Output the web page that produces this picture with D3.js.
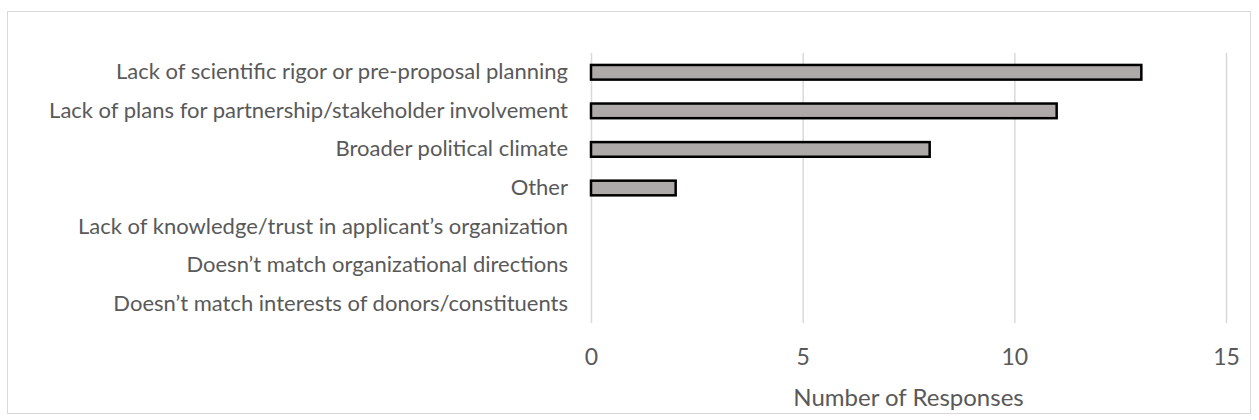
<!DOCTYPE html>
<html>
<head>
<meta charset="utf-8">
<script src="https://cdn.jsdelivr.net/npm/d3@7/dist/d3.min.js"></script>
<style>
  html, body { margin: 0; padding: 0; background: #fff; }
  svg { display: block; }
  text { font-family: Lato, "Open Sans", sans-serif; fill: #595959; }
</style>
</head>
<body>
<svg id="chart" width="1259" height="420"></svg>
<script>
// Reasons given, top to bottom, and the number of responses for each
const categories = [
  "Lack of scientific rigor or pre-proposal planning",
  "Lack of plans for partnership/stakeholder involvement",
  "Broader political climate",
  "Other",
  "Lack of knowledge/trust in applicant\u2019s organization",
  "Doesn\u2019t match organizational directions",
  "Doesn\u2019t match interests of donors/constituents"
];
const responses = [13, 11, 8, 2, 0, 0, 0];
const xTicks = [0, 5, 10, 15];
const xTitle = "Number of Responses";

const svg = d3.select("#chart");

// outer chart frame
svg.append("rect")
  .attr("x", 7.5).attr("y", 11.5)
  .attr("width", 1243).attr("height", 402)
  .attr("fill", "#fff").attr("stroke", "#d9d9d9").attr("stroke-width", 1);

const plot = { left: 591, right: 1226, top: 53, bottom: 323 };

const x = d3.scaleLinear().domain([0, 15]).range([plot.left, plot.right]);
const y = d3.scaleBand().domain(categories).range([plot.top, plot.bottom]).paddingInner(0.62).paddingOuter(0.31);

// vertical gridlines
svg.append("g")
  .selectAll("line")
  .data(xTicks)
  .join("line")
  .attr("x1", d => x(d) + 0.5).attr("x2", d => x(d) + 0.5)
  .attr("y1", plot.top).attr("y2", plot.bottom)
  .attr("stroke", "#d9d9d9").attr("stroke-width", 1.5);

// bottom axis tick labels
const xAxis = d3.axisBottom(x).tickValues(xTicks).tickSize(0).tickPadding(0);
const gx = svg.append("g").attr("transform", `translate(0, ${plot.bottom})`).call(xAxis);
gx.select(".domain").remove();
gx.selectAll("text")
  .attr("dy", 0).attr("y", 42)
  .style("font-size", "23px")
  .attr("fill", "#595959");

// category labels
const yAxis = d3.axisLeft(y).tickSize(0).tickPadding(0);
const gy = svg.append("g").attr("transform", `translate(568, 0)`).call(yAxis);
gy.select(".domain").remove();
gy.selectAll("text")
  .style("font-size", "22px")
  .attr("fill", "#595959");

// bars
svg.append("g")
  .selectAll("rect")
  .data(categories.map((c, i) => ({ c, v: responses[i] })).filter(d => d.v > 0))
  .join("rect")
  .attr("x", x(0))
  .attr("y", d => y(d.c))
  .attr("width", d => x(d.v) - x(0))
  .attr("height", y.bandwidth())
  .attr("fill", "#aeaaaa")
  .attr("stroke", "#000")
  .attr("stroke-width", 2.5);

// axis title
svg.append("text")
  .attr("x", (plot.left + plot.right) / 2)
  .attr("y", 406)
  .attr("text-anchor", "middle")
  .style("font-size", "24px")
  .text(xTitle);
</script>
</body>
</html>
